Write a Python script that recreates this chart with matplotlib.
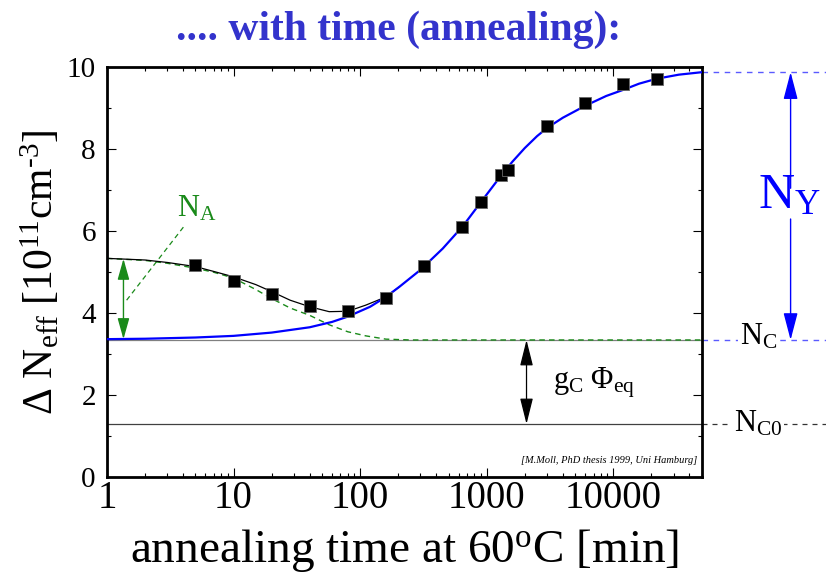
import matplotlib
matplotlib.use("Agg")
import matplotlib.pyplot as plt
import numpy as np

plt.rcParams['font.family'] = ['Liberation Serif', 'DejaVu Serif']
plt.rcParams['mathtext.fontset'] = 'stix'

# measured points (annealing at 60C)
t_meas = [5, 10, 20, 40, 80, 160, 320, 640, 900, 1300, 1470, 3000, 6000, 12000, 22000]
n_meas = [5.17, 4.80, 4.46, 4.18, 4.06, 4.38, 5.15, 6.11, 6.71, 7.37, 7.50, 8.58, 9.12, 9.59, 9.71]

# stable damage + reverse annealing part (blue)
t_blue = [1, 2, 5, 10, 20, 40, 60, 80, 120, 160, 205, 300, 450, 650, 900, 1300, 1600,
          2000, 2500, 3000, 4000, 6000, 8800, 12000, 16000, 22000, 33000, 50000]
n_blue = [3.37, 3.38, 3.41, 3.45, 3.53, 3.66, 3.79, 3.92, 4.16, 4.40, 4.65, 5.06, 5.58,
          6.13, 6.71, 7.36, 7.70, 8.03, 8.32, 8.52, 8.77, 9.06, 9.30, 9.45, 9.60, 9.72,
          9.82, 9.88]

# total fit (black)
t_fit = [1, 2, 3, 5, 7, 10, 15, 20, 28, 40, 57, 80, 111, 160, 205]
n_fit = [5.34, 5.30, 5.24, 5.14, 5.02, 4.89, 4.70, 4.53, 4.32, 4.16, 4.04, 4.05, 4.20, 4.40, 4.65]

# beneficial annealing N_A (green dashed)
t_na = [1, 2, 3, 5, 7, 10, 15, 20, 28, 40, 57, 80, 111, 160, 250, 50000]
n_na = [5.34, 5.29, 5.22, 5.10, 5.00, 4.86, 4.58, 4.36, 4.13, 3.95, 3.72, 3.55, 3.45, 3.37, 3.35, 3.35]

N_C = 3.35
N_C0 = 1.30
N_top = 9.88

x_ticks = [1, 10, 100, 1000, 10000]
x_ticklabels = ['1', '10', '100', '1000', '10000']
y_ticks = [0, 2, 4, 6, 8, 10]

green = '#1a8a1a'
blue = '#0000ff'
lblue = '#5a5aff'

fig = plt.figure(figsize=(8.26, 5.8), dpi=100)
ax = fig.add_axes([0.1295, 0.177, 0.72, 0.707])

ax.axhline(N_C, color='#808080', lw=0.9, zorder=1)
ax.axhline(N_C0, color='#404040', lw=0.9, zorder=1)

ax.plot(t_na, n_na, color=green, lw=1.0, ls=(0, (4, 3)), zorder=2)
ax.plot(t_fit, n_fit, color='black', lw=0.9, zorder=3)
ax.plot(t_blue, n_blue, color=blue, lw=1.6, zorder=4)
ax.plot(t_meas, n_meas, 's', ms=9, mfc='black', mec='#666666', mew=0.6, zorder=5)

ax.set_xscale('log')
ax.set_xlim(1, 50000)
ax.set_ylim(0, 10)
ax.set_xticks(x_ticks)
ax.set_xticklabels(x_ticklabels)
ax.set_yticks(y_ticks)
ax.set_yticks(np.arange(1, 10, 2), minor=True)
ax.tick_params(which='both', direction='in', top=True, right=True, width=0.8)
ax.tick_params(which='major', length=6.5)
ax.tick_params(which='minor', length=3)
ax.tick_params(axis='x', labelsize=28, pad=2)
ax.tick_params(axis='y', labelsize=21, pad=8)
for s in ax.spines.values():
    s.set_linewidth(2)

ax.set_xlabel(r'annealing time at 60$\mathregular{^{o}}$C [min]', fontsize=34)
ax.xaxis.set_label_coords(0.5, -0.12)
ax.set_ylabel('$\\mathregular{\\Delta\\ N_{eff}\\ [10^{11}cm^{\u2010 3}]}$', fontsize=30)
ax.yaxis.set_label_coords(-0.075, 0.5)

fig.text(0.482, 0.948, '.... with time (annealing):', fontsize=30, fontweight='bold',
         color='#3333cc', ha='center', va='center')

ax.text(0.992, 0.035, '[M.Moll, PhD thesis 1999, Uni Hamburg]', transform=ax.transAxes,
        fontsize=7.5, style='italic', ha='right', va='baseline')

# N_A annotation
ax.annotate('', xy=(1.35, 5.33), xytext=(1.35, N_C + 0.02),
            arrowprops=dict(arrowstyle='<|-|>,head_length=1.6,head_width=0.45',
                            mutation_scale=8, color=green, lw=1.0, shrinkA=0, shrinkB=0))
ax.plot([1.43, 4.13], [4.32, 6.15], color=green, lw=0.9, ls=(0, (4, 3)))
ax.text(3.57, 6.37, r'$\mathregular{N_A}$', color=green, fontsize=22, va='baseline')

# g_C Phi_eq annotation
ax.annotate('', xy=(2065, N_C), xytext=(2065, N_C0),
            arrowprops=dict(arrowstyle='<|-|>,head_length=2.0,head_width=0.5',
                            mutation_scale=8, color='black', lw=0.9, shrinkA=0, shrinkB=0))
ax.text(0.75, 2.30, r'$\mathregular{g_C\ \Phi_{eq}}$', transform=ax.get_yaxis_transform(),
        fontsize=22, va='center', ha='left')

# right-hand annotations outside the frame
tr = ax.get_yaxis_transform()
ax.plot([1.0, 1.21], [N_top, N_top], transform=tr, clip_on=False, color=lblue, lw=1.0,
        ls=(0, (4, 4)))
ax.plot([1.0, 1.21], [N_C, N_C], transform=tr, clip_on=False, color=lblue, lw=1.0,
        ls=(0, (4, 4)))
ax.plot([1.0, 1.21], [N_C0, N_C0], transform=tr, clip_on=False, color='#333333', lw=0.9,
        ls=(0, (4, 4)))
ax.text(1.095, 3.23, r'$\mathregular{N_C}$', transform=tr, fontsize=22, ha='center',
        va='baseline', bbox=dict(fc='white', ec='none', pad=1))
ax.text(1.095, 1.11, r'$\mathregular{N_{C0}}$', transform=tr, fontsize=22, ha='center',
        va='baseline', bbox=dict(fc='white', ec='none', pad=1))

x_ny = 1.1495
ax.annotate('', xy=(x_ny, N_top), xytext=(x_ny, 7.05), xycoords=tr, textcoords=tr,
            arrowprops=dict(arrowstyle='-|>,head_length=2.1,head_width=0.55',
                            mutation_scale=8, color=blue, lw=1.0, shrinkA=0, shrinkB=0))
ax.annotate('', xy=(x_ny, N_C), xytext=(x_ny, 6.3), xycoords=tr, textcoords=tr,
            arrowprops=dict(arrowstyle='-|>,head_length=2.1,head_width=0.55',
                            mutation_scale=8, color=blue, lw=1.0, shrinkA=0, shrinkB=0))
ax.text(1.095, 6.57, r'$\mathregular{N_Y}$', transform=tr, fontsize=36, color=blue,
        ha='left', va='baseline')

fig.savefig('out.png', dpi=100)
